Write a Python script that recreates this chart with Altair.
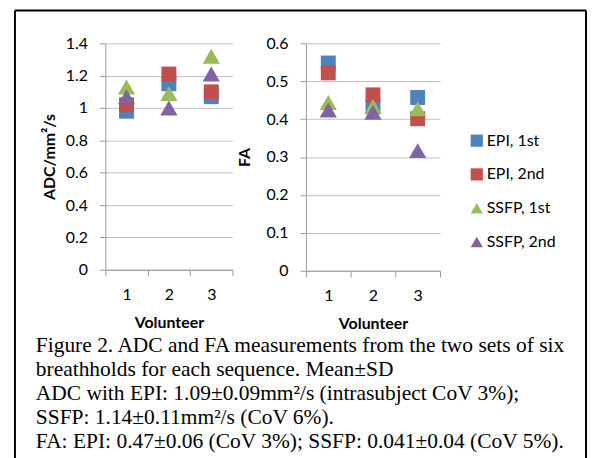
import altair as alt
import pandas as pd

volunteers = ["1", "2", "3"]
series = ["EPI, 1st", "EPI, 2nd", "SSFP, 1st", "SSFP, 2nd"]
adc_epi1 = [0.98, 1.15, 1.07]
adc_epi2 = [1.02, 1.21, 1.10]
adc_ssfp1 = [1.13, 1.09, 1.32]
adc_ssfp2 = [1.07, 1.00, 1.21]
fa_epi1 = [0.548, 0.432, 0.457]
fa_epi2 = [0.522, 0.464, 0.401]
fa_ssfp1 = [0.444, 0.434, 0.427]
fa_ssfp2 = [0.424, 0.418, 0.317]
colors = ["#4F81BD", "#C0504D", "#9BBB59", "#8064A2"]
shapes = ["square", "square", "triangle-up", "triangle-up"]
adc_ticks = [0, 0.2, 0.4, 0.6, 0.8, 1.0, 1.2, 1.4]
fa_ticks = [0, 0.1, 0.2, 0.3, 0.4, 0.5, 0.6]
caption_lines = [
    "Figure 2. ADC and FA measurements from the two sets of six",
    "breathholds for each sequence. Mean\u00b1SD",
    "ADC with EPI: 1.09\u00b10.09mm\u00b2/s (intrasubject CoV 3%);",
    "SSFP: 1.14\u00b10.11mm\u00b2/s (CoV 6%).",
    "FA: EPI: 0.47\u00b10.06 (CoV 3%); SSFP: 0.041\u00b10.04 (CoV 5%).",
]

adc_all = [adc_epi1, adc_epi2, adc_ssfp1, adc_ssfp2]
fa_all = [fa_epi1, fa_epi2, fa_ssfp1, fa_ssfp2]
rows = []
for s, a_vals, f_vals in zip(series, adc_all, fa_all):
    for v, a, f in zip(volunteers, a_vals, f_vals):
        rows.append({"volunteer": v, "series": s, "adc": a, "fa": f,
                     "kind": s.split(",")[0]})
df = pd.DataFrame(rows)

FONT = "Lato"
GRID = "#BFBFBF"
AXIS = "#9A9A9A"

x_enc = alt.X(
    "volunteer:N",
    scale=alt.Scale(domain=volunteers, paddingInner=0, paddingOuter=0),
    axis=alt.Axis(title="Volunteer", labelAngle=0, tickBand="extent", tickSize=6,
                  labelPadding=11, titlePadding=12, grid=False),
)
color_enc = alt.Color("series:N", scale=alt.Scale(domain=series, range=colors), title=None)
shape_enc = alt.Shape("series:N", scale=alt.Scale(domain=series, range=shapes), title=None)


def panel(field, ticks, title, top, w, h, tpad):
    y_enc = alt.Y(f"{field}:Q", scale=alt.Scale(domain=[0, top], nice=False),
                  axis=alt.Axis(values=ticks, format="~g", title=title, tickSize=6,
                                labelPadding=12, titlePadding=tpad))
    base = alt.Chart(df).encode(x=x_enc, y=y_enc, color=color_enc, shape=shape_enc)
    squares = base.transform_filter(alt.datum.kind == "EPI").mark_point(
        filled=True, opacity=1, strokeWidth=0, size=225)
    triangles = base.transform_filter(alt.datum.kind == "SSFP").mark_point(
        filled=True, opacity=1, strokeWidth=0, size=300)
    return alt.layer(squares, triangles).properties(width=w, height=h)


one = alt.Data(values=[{}])
frame_top = alt.Chart(one).mark_rule(color="black", strokeWidth=2, clip=False).encode(
    x=alt.value(-91), x2=alt.value(484), y=alt.value(-33))
frame_left = alt.Chart(one).mark_rule(color="black", strokeWidth=2, clip=False).encode(
    x=alt.value(-91), y=alt.value(-33), y2=alt.value(430))
frame_right = alt.Chart(one).mark_rule(color="black", strokeWidth=2, clip=False).encode(
    x=alt.value(484), y=alt.value(-33), y2=alt.value(430))

left = alt.layer(panel("adc", adc_ticks, "ADC/mm\u00b2/s", 1.4, 128, 228, 8),
                 frame_top, frame_left, frame_right)
right = panel("fa", fa_ticks, "FA", 0.6, 135, 229, 13)

cap_df = pd.DataFrame({"line": list(range(len(caption_lines))), "text": caption_lines})
caption = alt.Chart(cap_df).mark_text(
    align="left", baseline="alphabetic", font="Liberation Serif", fontSize=21.6,
    color="black", dx=-70, clip=False,
).encode(
    y=alt.Y("line:O", axis=None, scale=alt.Scale(type="point", padding=0)),
    x=alt.value(0),
    text="text:N",
).properties(width=128, height=96)

chart = alt.concat(
    left, right, caption, columns=2, spacing={"row": 82, "column": 74}, bounds="flush"
).properties(
    autosize=alt.AutoSizeParams(type="none"),
    padding={"left": 98, "top": 34, "right": 485, "bottom": 416},
    background="white",
).configure_view(stroke=None).configure_axis(
    labelFont=FONT, labelFontSize=16, labelColor="black",
    titleFont=FONT, titleFontSize=16, titleFontWeight="bold", titleColor="black",
    domainColor=AXIS, tickColor=AXIS, gridColor=GRID, domainWidth=1, gridWidth=1,
).configure_legend(
    orient="none", legendX=366, legendY=90, symbolSize=150, symbolStrokeWidth=0,
    labelFont=FONT, labelFontSize=16, labelColor="black", rowPadding=18, labelOffset=2,
)

chart.save("out.html", embed_options={"renderer": "svg", "actions": False})
